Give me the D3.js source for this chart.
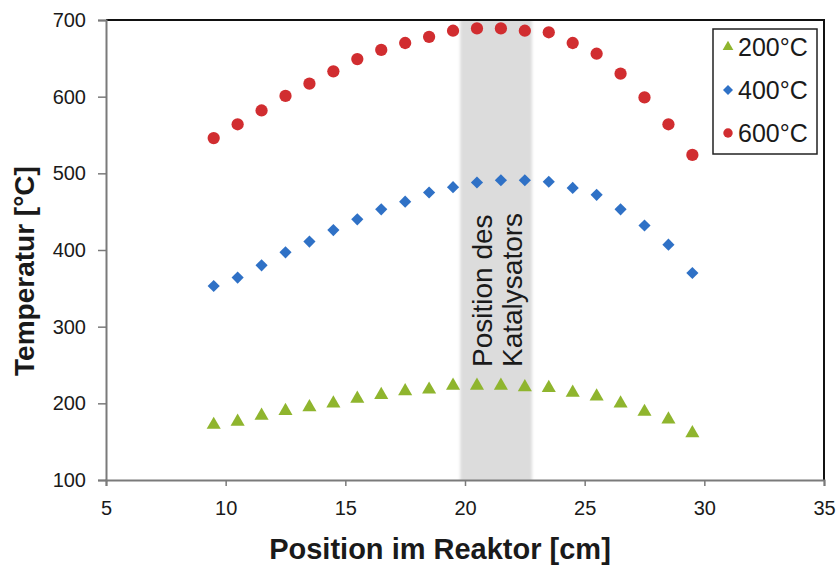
<!DOCTYPE html>
<html>
<head>
<meta charset="utf-8">
<script src="https://cdn.jsdelivr.net/npm/d3@7"></script>
<style>
  body { margin: 0; background: #fff; }
  svg text { font-family: Arial, "Liberation Sans", sans-serif; fill: #1a1a1a; }
</style>
</head>
<body>
<svg id="chart" width="838" height="568"></svg>
<script>
// positions along the reactor [cm]
const positions = [9.5, 10.5, 11.5, 12.5, 13.5, 14.5, 15.5, 16.5, 17.5, 18.5, 19.5,
  20.5, 21.5, 22.5, 23.5, 24.5, 25.5, 26.5, 27.5, 28.5, 29.5];

const temp200 = [172, 176, 184, 190, 195, 200, 206, 211, 216, 218, 223,
  223, 223, 221, 220, 214, 209, 200, 189, 179, 161];
const temp400 = [353, 364, 380, 397, 411, 426, 440, 453, 463, 475, 482,
  488, 491, 491, 489, 481, 472, 453, 432, 407, 370];
const temp600 = [546, 564, 582, 601, 617, 633, 649, 661, 670, 678, 686,
  689, 689, 686, 684, 670, 656, 630, 599, 564, 524];

const seriesNames = ['200°C', '400°C', '600°C'];
const xTicks = [5, 10, 15, 20, 25, 30, 35];
const yTicks = [100, 200, 300, 400, 500, 600, 700];
const catalystBand = [19.8, 22.8];

const series = [
  { name: seriesNames[0], values: temp200, color: '#8fb52e', shape: 'triangle' },
  { name: seriesNames[1], values: temp400, color: '#2f71c6', shape: 'diamond' },
  { name: seriesNames[2], values: temp600, color: '#d12d30', shape: 'circle' },
];

const margin = { top: 20, right: 14, bottom: 88, left: 106 };
const width = 838, height = 568;
const plot = {
  left: margin.left,
  right: width - margin.right,
  top: margin.top,
  bottom: height - margin.bottom,
};

const svg = d3.select('#chart');

const xScale = d3.scaleLinear().domain([5, 35]).range([plot.left, plot.right]);
const yScale = d3.scaleLinear().domain([100, 700]).range([plot.bottom, plot.top]);

function symbolPath(shape) {
  if (shape === 'circle') return d3.symbol(d3.symbolCircle, 118)();
  if (shape === 'triangle') return d3.symbol(d3.symbolTriangle, 86)();
  return d3.symbol(d3.symbolSquare, 74)();
}

// blurred grey band for the catalyst
const defs = svg.append('defs');
defs.append('filter').attr('id', 'soft')
  .attr('x', '-20%').attr('width', '140%')
  .append('feGaussianBlur').attr('stdDeviation', '1.5 0');

svg.append('rect')
  .attr('x', xScale(catalystBand[0]))
  .attr('y', plot.top)
  .attr('width', xScale(catalystBand[1]) - xScale(catalystBand[0]))
  .attr('height', plot.bottom - plot.top)
  .attr('fill', '#dcdcdc')
  .attr('filter', 'url(#soft)');

// band label, rotated
const bandLabel = svg.append('text')
  .attr('transform', `translate(0, 367) rotate(-90)`)
  .style('font-size', '28px');
bandLabel.append('tspan').attr('x', 0).attr('y', 492).text('Position des');
bandLabel.append('tspan').attr('x', 0).attr('y', 522).text('Katalysators');

// plot frame (top/right black)
svg.append('path')
  .attr('d', `M${plot.left},${plot.top}H${plot.right}V${plot.bottom}`)
  .attr('fill', 'none')
  .attr('stroke', '#111')
  .attr('stroke-width', 2);

// axes
const yAxis = svg.append('g')
  .attr('transform', `translate(${plot.left},0)`)
  .call(d3.axisLeft(yScale).tickValues(yTicks).tickSize(8).tickPadding(12));
const xAxis = svg.append('g')
  .attr('transform', `translate(0,${plot.bottom})`)
  .call(d3.axisBottom(xScale).tickValues(xTicks).tickSize(6).tickPadding(22));

[yAxis, xAxis].forEach(ax => {
  ax.select('.domain').attr('stroke', '#7a7a7a').attr('stroke-width', 2);
  ax.selectAll('.tick line').attr('stroke', '#7a7a7a').attr('stroke-width', 1.5);
  ax.selectAll('.tick text')
    .style('font-size', '20px')
    .style('font-family', 'Arial, "Liberation Sans", sans-serif')
    .attr('fill', '#1a1a1a');
});
xAxis.selectAll('.tick text').attr('dy', '0.35em');

// axis titles
svg.append('text')
  .attr('x', 440)
  .attr('y', 559)
  .attr('text-anchor', 'middle')
  .style('font-size', '29px')
  .style('font-weight', 'bold')
  .text('Position im Reaktor [cm]');

svg.append('text')
  .attr('transform', 'translate(34, 271) rotate(-90)')
  .attr('text-anchor', 'middle')
  .style('font-size', '28px')
  .style('font-weight', 'bold')
  .text('Temperatur [°C]');

// data points
series.forEach(s => {
  svg.append('g')
    .selectAll('path')
    .data(positions.map((p, i) => ({ x: p, y: s.values[i] })))
    .join('path')
    .attr('d', symbolPath(s.shape))
    .attr('transform', d => `translate(${xScale(d.x)},${yScale(d.y)})` + (s.shape === 'diamond' ? ' rotate(45)' : ''))
    .attr('fill', s.color);
});

// legend
const legend = svg.append('g');
legend.append('rect')
  .attr('x', 713).attr('y', 29)
  .attr('width', 104).attr('height', 125)
  .attr('fill', '#fff')
  .attr('stroke', '#222')
  .attr('stroke-width', 1.5);

series.forEach((s, i) => {
  const cy = 47 + i * 43;
  legend.append('path')
    .attr('d', d3.symbol(
      s.shape === 'circle' ? d3.symbolCircle : s.shape === 'triangle' ? d3.symbolTriangle : d3.symbolSquare,
      s.shape === 'circle' ? 70 : 50)())
    .attr('transform', `translate(728,${cy})` + (s.shape === 'diamond' ? ' rotate(45)' : ''))
    .attr('fill', s.color);
  legend.append('text')
    .attr('x', 738)
    .attr('y', cy + 9)
    .style('font-size', '25px')
    .text(s.name);
});
</script>
</body>
</html>
